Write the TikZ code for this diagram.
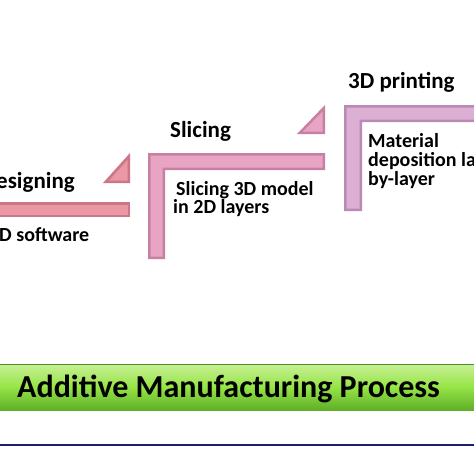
\documentclass[tikz,border=0pt]{standalone}
\usepackage{fontspec}
\setmainfont{Carlito}
\definecolor{pinkA}{RGB}{234,152,165}
\definecolor{pinkAd}{RGB}{205,118,133}
\definecolor{pinkB}{RGB}{232,165,195}
\definecolor{pinkBd}{RGB}{200,128,162}
\definecolor{pinkC}{RGB}{220,175,212}
\definecolor{pinkCd}{RGB}{186,138,180}
\definecolor{greenT}{RGB}{200,240,150}
\definecolor{greenM}{RGB}{150,228,70}
\definecolor{greenB}{RGB}{95,175,40}
\definecolor{navy}{RGB}{30,32,110}
\begin{document}
\begin{tikzpicture}[x=1pt,y=-1pt,
  titletxt/.style={anchor=base west,inner sep=0pt,font=\fontsize{23}{26}\selectfont\bfseries},
  bodytxt/.style={anchor=base west,inner sep=0pt,font=\fontsize{20}{22}\selectfont\bfseries},
  outA/.style={fill=pinkAd},inA/.style={fill=pinkA},
  outB/.style={fill=pinkBd},inB/.style={fill=pinkB},
  outC/.style={fill=pinkCd},inC/.style={fill=pinkC}]
\useasboundingbox (0,0) rectangle (474,474);
\fill[white] (0,0) rectangle (474,474);
% left step
\fill[outA] (-5,202) -- (130,202) -- (130,217) -- (-5,217) -- cycle;
\fill[inA] (-5,204.5) -- (127.5,204.5) -- (127.5,214.5) -- (-5,214.5) -- cycle;
\fill[outA] (103,183) -- (130,153) -- (130,183) -- cycle;
\fill[inA] (109,180.5) -- (127.5,160) -- (127.5,180.5) -- cycle;
% middle step
\fill[outB] (148,153) -- (325,153) -- (325,170) -- (165,170) -- (165,259) -- (148,259) -- cycle;
\fill[inB] (150.5,155.5) -- (322.5,155.5) -- (322.5,167.5) -- (162.5,167.5) -- (162.5,256.5) -- (150.5,256.5) -- cycle;
\fill[outB] (297,134) -- (325,105) -- (325,134) -- cycle;
\fill[inB] (303,131.5) -- (322.5,111.5) -- (322.5,131.5) -- cycle;
% right step
\fill[outC] (344,105) -- (480,105) -- (480,122) -- (362,122) -- (362,211) -- (344,211) -- cycle;
\fill[inC] (346.5,107.5) -- (480,107.5) -- (480,119.5) -- (359.5,119.5) -- (359.5,208.5) -- (346.5,208.5) -- cycle;
% texts
\node[titletxt,anchor=base east] (des) at (75,188) {Designing};
\node[bodytxt] (dsw) at (-1,241) {D software};
\node[titletxt] (sli) at (170,137) {Slicing};
\node[bodytxt] (sl1) at (176,195) {Slicing 3D model};
\node[bodytxt] (sl2) at (173,213) {in 2D layers};
\node[titletxt] (prt) at (348,88) {3D printing};
\node[bodytxt] (m1) at (368,147) {Material};
\node[bodytxt] (m2) at (368,166) {deposition layer-};
\node[bodytxt] (m3) at (368,185) {by-layer};
% green bar
\shade[top color=greenT,bottom color=greenB,middle color=greenM] (0,364) rectangle (474,410);
\draw[greenB!80!black,line width=0.6pt] (0,364) -- (474,364);
\node[anchor=base west,inner sep=0pt,font=\fontsize{32}{36}\selectfont\bfseries] (amp) at (17,397) {Additive Manufacturing Process};
% navy line
\draw[navy,line width=1.8pt] (0,445) -- (474,445);
\end{tikzpicture}
\end{document}
